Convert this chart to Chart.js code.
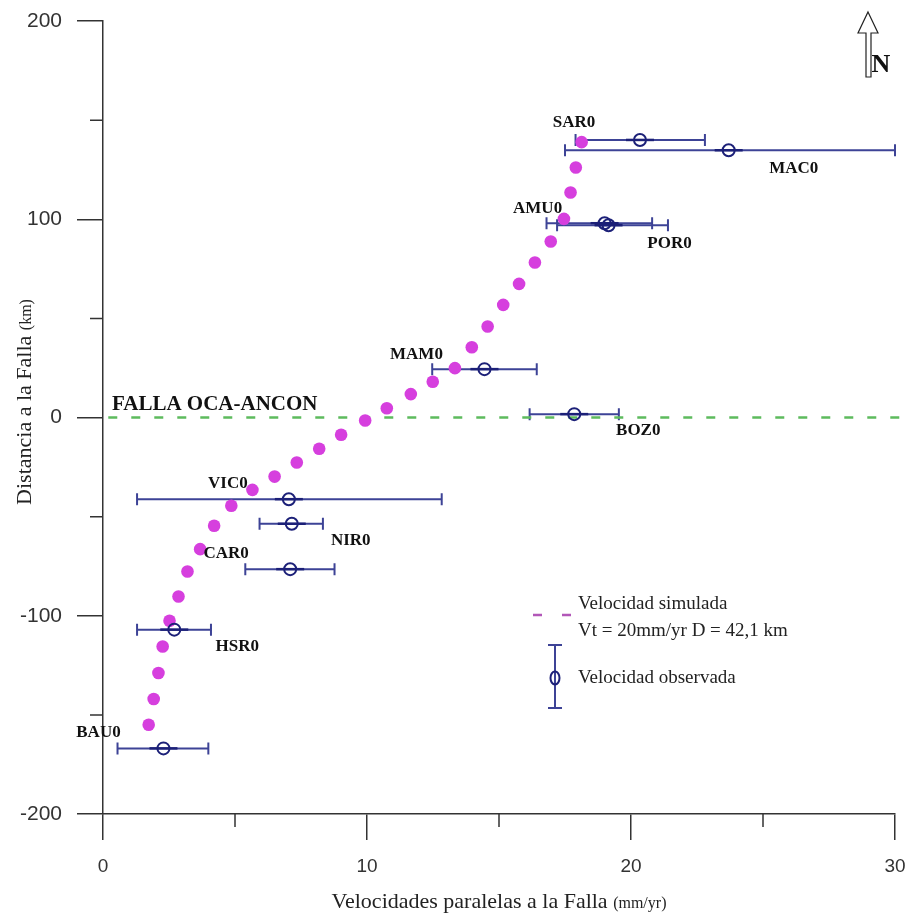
<!DOCTYPE html>
<html>
<head>
<meta charset="utf-8">
<title>Velocidades paralelas a la Falla</title>
<script src="https://cdn.jsdelivr.net/npm/chart.js@4.4.0/dist/chart.umd.min.js"></script>
<style>
  html, body { margin: 0; padding: 0; background: #fff; }
  #wrap { width: 909px; height: 915px; }
</style>
</head>
<body>
<div id="wrap"><canvas id="chart" width="909" height="915"></canvas></div>
<script>
// Observed GPS stations: fault-parallel velocity (mm/yr) vs distance to fault (km)
const stations = ['SAR0', 'MAC0', 'AMU0', 'POR0', 'MAM0', 'BOZ0', 'VIC0', 'NIR0', 'CAR0', 'HSR0', 'BAU0'];
const obsVelocity = [20.34, 23.7, 19.0, 19.15, 14.45, 17.85, 7.04, 7.15, 7.09, 2.70, 2.29];
const obsDistance = [140, 134.8, 98, 97, 24.4, 1.7, -41.2, -53.6, -76.5, -107, -166.9];
const obsLow = [17.9, 17.5, 16.8, 17.2, 12.47, 16.16, 1.29, 5.93, 5.39, 1.29, 0.55];
const obsHigh = [22.8, 30.0, 20.8, 21.4, 16.43, 19.54, 12.83, 8.33, 8.77, 4.09, 3.99];

// Simulated velocity profile (dotted magenta curve)
const simVelocity = [1.73, 1.92, 2.10, 2.26, 2.52, 2.86, 3.20, 3.68, 4.21, 4.86,
  5.66, 6.50, 7.34, 8.19, 9.02, 9.93, 10.75, 11.66, 12.49, 13.33,
  13.97, 14.57, 15.16, 15.76, 16.36, 16.96, 17.46, 17.71, 17.91, 18.13];
const simDistance = [-155.0, -142.0, -128.9, -115.5, -102.5, -90.3, -77.7, -66.4, -54.6, -44.5,
  -36.5, -29.8, -22.7, -15.8, -8.7, -1.5, 4.7, 11.8, 18.0, 24.9,
  35.4, 45.9, 56.8, 67.4, 78.2, 88.8, 100.2, 113.5, 126.1, 138.9];

// Fault trace (distance 0)
const faultX = [0.2, 30.4];
const faultY = [0, 0];

const xMinorTicks = [5, 15, 25];
const yMinorTicks = [150, 50, -50, -150];

// label placement, pixel offset from each station marker
const labelOffsets = [[-66, -17], [65, 18], [-67, -15], [61, 18], [-68, -15], [64, 16],
  [-61, -16], [59, 17], [-64, -16], [63, 17], [-65, -16]];

const NAVY = '#1c2078';
const BAR = '#3d4396';
const MAGENTA = '#d63fde';
const AXIS = '#333';
const SERIF = '"Liberation Serif", "Times New Roman", serif';
const SANS = '"Liberation Sans", Arial, sans-serif';

function xy(xs, ys) {
  return xs.map((x, i) => ({ x, y: ys[i] }));
}

const overlay = {
  id: 'overlay',
  beforeDatasetsDraw(chart) {
    const { ctx, scales: { x, y } } = chart;
    ctx.save();
    ctx.strokeStyle = BAR;
    ctx.lineWidth = 2;
    stations.forEach((s, i) => {
      const py = y.getPixelForValue(obsDistance[i]);
      const x1 = x.getPixelForValue(obsLow[i]);
      const x2 = x.getPixelForValue(obsHigh[i]);
      ctx.beginPath();
      ctx.moveTo(x1, py); ctx.lineTo(x2, py);
      ctx.moveTo(x1, py - 6); ctx.lineTo(x1, py + 6);
      ctx.moveTo(x2, py - 6); ctx.lineTo(x2, py + 6);
      ctx.stroke();
      // darker part of the bar near the marker
      const pc = x.getPixelForValue(obsVelocity[i]);
      ctx.save();
      ctx.strokeStyle = NAVY;
      ctx.lineWidth = 2.5;
      ctx.beginPath();
      ctx.moveTo(pc - 14, py); ctx.lineTo(pc + 14, py);
      ctx.stroke();
      ctx.restore();
    });
    ctx.restore();
  },
  afterDraw(chart) {
    const { ctx, scales: { x, y }, chartArea } = chart;
    ctx.save();

    // minor ticks
    ctx.strokeStyle = AXIS;
    ctx.lineWidth = 1.5;
    ctx.beginPath();
    xMinorTicks.forEach(v => {
      const px = x.getPixelForValue(v);
      ctx.moveTo(px, chartArea.bottom); ctx.lineTo(px, chartArea.bottom + 13);
    });
    yMinorTicks.forEach(v => {
      const py = y.getPixelForValue(v);
      ctx.moveTo(chartArea.left, py); ctx.lineTo(chartArea.left - 13, py);
    });
    ctx.stroke();

    // station labels
    ctx.fillStyle = '#111';
    ctx.font = 'bold 17px ' + SERIF;
    ctx.textAlign = 'center';
    ctx.textBaseline = 'middle';
    stations.forEach((s, i) => {
      const px = x.getPixelForValue(obsVelocity[i]) + labelOffsets[i][0];
      const py = y.getPixelForValue(obsDistance[i]) + labelOffsets[i][1];
      ctx.fillText(s, px, py);
    });

    // fault name
    ctx.font = 'bold 21px ' + SERIF;
    ctx.textAlign = 'left';
    ctx.fillText('FALLA OCA-ANCON', 112, y.getPixelForValue(0) - 13);

    // x axis title
    ctx.fillStyle = '#222';
    ctx.textBaseline = 'alphabetic';
    const t1 = 'Velocidades paralelas a la Falla ';
    const t2 = '(mm/yr)';
    ctx.font = '22px ' + SERIF;
    const w1 = ctx.measureText(t1).width;
    ctx.font = '16px ' + SERIF;
    const w2 = ctx.measureText(t2).width;
    let sx = 499 - (w1 + w2) / 2;
    ctx.font = '22px ' + SERIF;
    ctx.fillText(t1, sx, 908);
    ctx.font = '16px ' + SERIF;
    ctx.fillText(t2, sx + w1, 908);

    // y axis title
    ctx.save();
    ctx.translate(31, 402);
    ctx.rotate(-Math.PI / 2);
    const u1 = 'Distancia a la Falla ';
    const u2 = '(km)';
    ctx.font = '22px ' + SERIF;
    const v1 = ctx.measureText(u1).width;
    ctx.font = '16px ' + SERIF;
    const v2 = ctx.measureText(u2).width;
    sx = -(v1 + v2) / 2;
    ctx.font = '22px ' + SERIF;
    ctx.fillText(u1, sx, 0);
    ctx.font = '16px ' + SERIF;
    ctx.fillText(u2, sx + v1, 0);
    ctx.restore();

    // legend
    ctx.strokeStyle = '#b257b8';
    ctx.lineWidth = 2.5;
    ctx.setLineDash([9, 20]);
    ctx.beginPath();
    ctx.moveTo(533, 615); ctx.lineTo(572, 615);
    ctx.stroke();
    ctx.setLineDash([]);
    ctx.fillStyle = '#222';
    ctx.font = '19px ' + SERIF;
    ctx.textBaseline = 'middle';
    ctx.textAlign = 'left';
    ctx.fillText('Velocidad simulada', 578, 604);
    ctx.fillText('Vt = 20mm/yr D = 42,1 km', 578, 631);
    ctx.fillText('Velocidad observada', 578, 678);
    ctx.strokeStyle = BAR;
    ctx.lineWidth = 2;
    ctx.beginPath();
    ctx.moveTo(555, 645); ctx.lineTo(555, 708);
    ctx.moveTo(548, 645); ctx.lineTo(562, 645);
    ctx.moveTo(548, 708); ctx.lineTo(562, 708);
    ctx.stroke();
    ctx.strokeStyle = NAVY;
    ctx.beginPath();
    ctx.ellipse(555, 678, 4.5, 6.5, 0, 0, Math.PI * 2);
    ctx.stroke();

    // north arrow
    ctx.strokeStyle = '#222';
    ctx.lineWidth = 1.2;
    ctx.beginPath();
    ctx.moveTo(868, 12); ctx.lineTo(878, 33); ctx.lineTo(871, 33);
    ctx.lineTo(871, 77); ctx.lineTo(866, 77); ctx.lineTo(866, 33);
    ctx.lineTo(858, 33); ctx.closePath();
    ctx.stroke();
    ctx.fillStyle = '#111';
    ctx.font = 'bold 26px ' + SERIF;
    ctx.textAlign = 'center';
    ctx.fillText('N', 881, 65);

    ctx.restore();
  }
};

new Chart(document.getElementById('chart'), {
  type: 'scatter',
  data: {
    datasets: [
      {
        label: 'Falla Oca-Ancon',
        type: 'line',
        data: xy(faultX, faultY),
        borderColor: '#5dbb5d',
        borderWidth: 2.5,
        borderDash: [9, 14],
        pointRadius: 0,
        clip: false,
        order: 3,
      },
      {
        label: 'Velocidad simulada',
        data: xy(simVelocity, simDistance),
        backgroundColor: MAGENTA,
        borderWidth: 0,
        pointRadius: 6.3,
        order: 2,
      },
      {
        label: 'Velocidad observada',
        data: xy(obsVelocity, obsDistance),
        backgroundColor: 'rgba(0,0,0,0)',
        borderColor: NAVY,
        borderWidth: 2,
        pointRadius: 6,
        order: 1,
      },
    ],
  },
  plugins: [overlay],
  options: {
    responsive: false,
    animation: false,
    devicePixelRatio: 1,
    layout: { padding: { top: 21, right: 14, left: 0, bottom: 0 } },
    plugins: {
      legend: { display: false },
      tooltip: { enabled: false },
    },
    scales: {
      x: {
        type: 'linear',
        min: 0,
        max: 30,
        afterFit(scale) {
          scale.height = 101;
          scale.paddingLeft = 0;
          scale.paddingRight = 0;
        },
        ticks: { stepSize: 10, padding: 15, color: AXIS, font: { family: SANS, size: 19 } },
        grid: { drawOnChartArea: false, tickLength: 26, color: AXIS, lineWidth: 1.5 },
        border: { color: AXIS, width: 1.5 },
      },
      y: {
        type: 'linear',
        min: -200,
        max: 200,
        afterFit(scale) {
          scale.width = 103;
          scale.paddingTop = 0;
          scale.paddingBottom = 0;
        },
        ticks: { stepSize: 100, padding: 15, color: AXIS, font: { family: SANS, size: 21 } },
        grid: { drawOnChartArea: false, tickLength: 26, color: AXIS, lineWidth: 1.5 },
        border: { color: AXIS, width: 1.5 },
      },
    },
  },
});
</script>
</body>
</html>
